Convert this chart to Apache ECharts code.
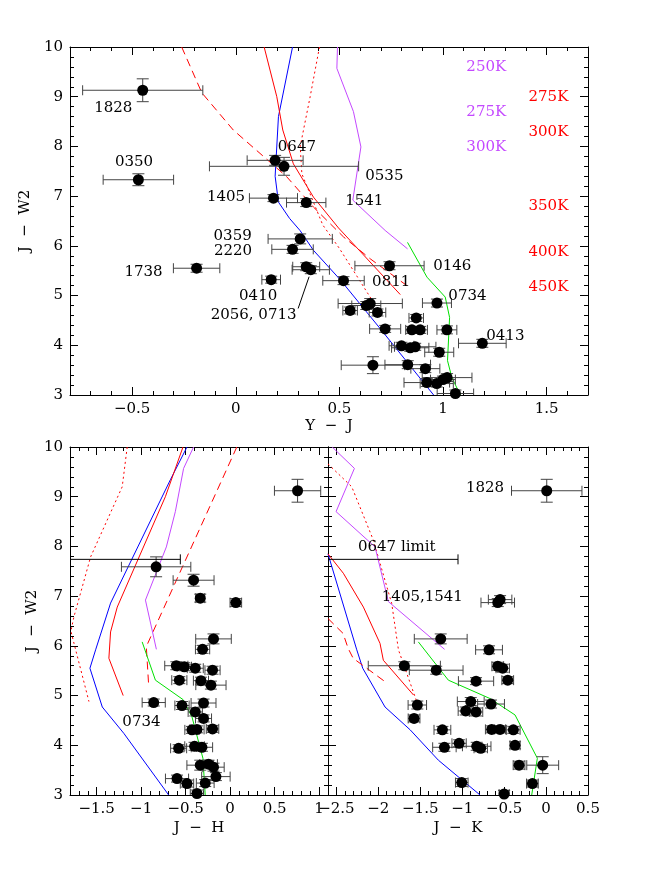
<!DOCTYPE html>
<html>
<head>
<meta charset="utf-8">
<script src="https://cdn.jsdelivr.net/npm/echarts@6/dist/echarts.min.js"></script>
<style>
  html, body { margin: 0; padding: 0; background: #fff; }
  #chart { width: 664px; height: 885px; }
</style>
</head>
<body>
<div id="chart"></div>
<script>
// points: [x, y, xerr, yerr]
const yjPoints = [
  [-0.449, 9.13, 0.29, 0.23], [-0.47, 7.33, 0.17, 0.12], [0.19, 7.72, 0.135, 0.1],
  [0.233, 7.60, 0.36, 0.18], [0.182, 6.96, 0.116, 0.07], [0.34, 6.87, 0.095, 0.08],
  [0.311, 6.14, 0.155, 0.1], [0.274, 5.93, 0.10, 0.08], [-0.189, 5.55, 0.112, 0.08],
  [0.34, 5.58, 0.065, 0.08], [0.362, 5.52, 0.09, 0.08], [0.171, 5.32, 0.045, 0.07],
  [0.742, 5.60, 0.167, 0.08], [0.52, 5.30, 0.10, 0.08], [0.971, 4.85, 0.07, 0.08],
  [0.649, 4.84, 0.155, 0.1], [0.63, 4.80, 0.07, 0.08], [0.552, 4.70, 0.035, 0.07],
  [0.684, 4.66, 0.04, 0.07], [0.871, 4.55, 0.035, 0.07], [0.721, 4.33, 0.075, 0.07],
  [0.85, 4.31, 0.03, 0.07], [0.89, 4.31, 0.035, 0.07], [1.019, 4.31, 0.048, 0.08],
  [1.19, 4.04, 0.115, 0.08], [0.80, 3.99, 0.06, 0.07], [0.842, 3.95, 0.09, 0.07],
  [0.866, 3.97, 0.1, 0.07], [0.982, 3.86, 0.07, 0.08], [0.662, 3.60, 0.153, 0.17],
  [0.83, 3.61, 0.11, 0.08], [0.915, 3.53, 0.07, 0.08], [1.02, 3.35, 0.12, 0.08],
  [1.0, 3.31, 0.06, 0.07], [0.922, 3.25, 0.11, 0.08], [0.97, 3.23, 0.08, 0.07],
  [1.06, 3.03, 0.088, 0.07]
];
const jhPoints = [
  [0.758, 9.12, 0.26, 0.23], [-0.832, 7.59, 0.39, 0.2], [-0.411, 7.32, 0.23, 0.12],
  [-0.336, 6.96, 0.05, 0.08], [0.064, 6.87, 0.065, 0.08], [-0.187, 6.14, 0.2, 0.1],
  [-0.31, 5.93, 0.08, 0.08], [-0.605, 5.60, 0.13, 0.08], [-0.515, 5.58, 0.08, 0.08],
  [-0.392, 5.55, 0.09, 0.08], [-0.198, 5.51, 0.085, 0.08], [-0.571, 5.31, 0.085, 0.07],
  [-0.328, 5.30, 0.085, 0.07], [-0.216, 5.21, 0.17, 0.08], [-0.859, 4.86, 0.13, 0.07],
  [-0.541, 4.80, 0.08, 0.08], [-0.299, 4.85, 0.14, 0.08], [-0.392, 4.67, 0.08, 0.08],
  [-0.299, 4.54, 0.09, 0.07], [-0.429, 4.31, 0.08, 0.07], [-0.373, 4.32, 0.08, 0.07],
  [-0.198, 4.33, 0.07, 0.07], [-0.579, 3.94, 0.09, 0.07], [-0.40, 3.98, 0.11, 0.08],
  [-0.317, 3.96, 0.12, 0.08], [-0.336, 3.60, 0.15, 0.1], [-0.243, 3.62, 0.1, 0.08],
  [-0.187, 3.56, 0.12, 0.08], [-0.160, 3.37, 0.16, 0.08], [-0.597, 3.33, 0.13, 0.07],
  [-0.485, 3.23, 0.075, 0.07], [-0.28, 3.24, 0.1, 0.07], [-0.373, 3.03, 0.075, 0.07]
];
const jkPoints = [
  [0.008, 9.12, 0.42, 0.23], [-0.548, 6.93, 0.14, 0.08], [-0.576, 6.87, 0.2, 0.08],
  [-1.256, 6.14, 0.315, 0.1], [-0.68, 5.92, 0.16, 0.08], [-1.69, 5.60, 0.43, 0.08],
  [-1.31, 5.51, 0.32, 0.08], [-0.576, 5.59, 0.07, 0.08], [-0.517, 5.55, 0.08, 0.08],
  [-0.835, 5.29, 0.21, 0.07], [-0.457, 5.31, 0.07, 0.07], [-1.535, 4.81, 0.11, 0.08],
  [-0.898, 4.88, 0.16, 0.08], [-0.656, 4.83, 0.16, 0.08], [-0.958, 4.69, 0.09, 0.08],
  [-0.835, 4.67, 0.08, 0.08], [-1.574, 4.54, 0.07, 0.07], [-1.236, 4.31, 0.1, 0.07],
  [-0.648, 4.32, 0.075, 0.07], [-0.548, 4.32, 0.065, 0.07], [-0.39, 4.31, 0.08, 0.07],
  [-1.212, 3.96, 0.14, 0.08], [-1.037, 4.04, 0.085, 0.07], [-0.827, 3.98, 0.17, 0.08],
  [-0.779, 3.94, 0.08, 0.07], [-0.37, 4.0, 0.06, 0.07], [-0.04, 3.60, 0.19, 0.17],
  [-0.322, 3.60, 0.07, 0.08], [-1.005, 3.25, 0.075, 0.08], [-0.163, 3.23, 0.07, 0.07],
  [-0.50, 3.02, 0.06, 0.07]
];
// upper limits: [xFrom, xTo, y]
const jhLimits = [[-1.8, -0.56, 7.74]];
const jkLimits = [[-2.6, -1.05, 7.74]];

// model tracks
const yjBlue = [[0.274,10],[0.206,8.6],[0.19,7.4],[0.206,6.88],[0.26,6.55],[0.31,6.31],[0.375,5.91],[0.504,5.32],[0.70,4.32],[0.955,3.0]];
const yjRed = [[0.137,10],[0.198,9.0],[0.227,8.33],[0.278,7.65],[0.375,6.98],[0.496,6.36],[0.794,5.02]];
const yjRedDash = [[-0.261,10],[-0.164,9.08],[-0.012,8.33],[0.117,7.86],[0.246,7.39],[0.375,6.78],[0.52,6.18],[0.649,5.74],[0.826,5.2]];
const yjRedDot = [[0.404,10],[0.359,9.0],[0.311,8.0],[0.319,7.45],[0.42,6.42],[0.50,5.95],[0.665,4.86]];
const yjViolet = [[0.491,10],[0.488,9.57],[0.568,8.70],[0.604,7.99],[0.565,6.92],[0.721,6.31],[0.829,5.94]];
const yjGreen = [[0.829,6.07],[0.923,5.37],[1.011,4.97],[1.032,4.56],[1.022,3.69],[1.043,3.35],[1.084,3.0]];
const yjLeader = [[0.301,4.74],[0.354,5.38]];

const jhBlue = [[-0.485,10],[-0.672,9.34],[-1.344,6.86],[-1.512,5.92],[-1.576,5.55],[-1.437,4.77],[-1.195,4.24],[-0.691,3.0]];
const jhRed = [[-0.53,10],[-0.728,9.0],[-1.269,6.78],[-1.344,6.28],[-1.363,5.75],[-1.202,5.0]];
const jhRedDash = [[0.075,10],[-0.926,6.05],[-0.941,5.95],[-0.915,5.18]];
const jhRedDot = [[-1.157,10],[-1.213,9.2],[-1.568,7.79],[-1.755,6.59],[-1.79,6.3],[-1.755,6.05],[-1.587,4.88]];
const jhViolet = [[-0.411,10],[-0.523,9.57],[-0.616,8.70],[-0.717,7.99],[-0.952,6.92],[-0.829,5.93]];
const jhGreen = [[-0.989,6.08],[-0.84,5.31],[-0.53,4.92],[-0.429,4.57],[-0.306,3.74],[-0.28,3.0]];

const jkBlue = [[-2.6,7.85],[-2.257,5.92],[-2.186,5.55],[-1.92,4.77],[-1.62,4.31],[-1.284,3.70],[-0.787,3.0]];
const jkRed = [[-2.6,7.85],[-2.417,7.46],[-2.178,6.78],[-1.98,6.05],[-1.94,5.71],[-1.58,5.01]];
const jkRedDash = [[-2.6,6.55],[-2.42,6.25],[-2.36,5.95],[-2.3,5.75],[-1.92,5.28]];
const jkRedDot = [[-2.6,9.66],[-2.317,9.2],[-2.06,8.13],[-1.84,6.85],[-1.76,5.92],[-1.542,4.88]];
const jkViolet = [[-2.55,10],[-2.285,9.57],[-2.504,8.70],[-2.039,7.99],[-1.88,6.89],[-1.21,5.93]];
const jkGreen = [[-1.523,6.08],[-1.165,5.31],[-0.668,4.94],[-0.37,4.61],[-0.104,3.74],[-0.171,3.0]];

// annotations: [x, y, text, align]
const yjLabels = [
  [-0.591, 8.78, '1828', 'center'], [-0.491, 7.69, '0350', 'center'], [0.295, 7.99, '0647', 'center'],
  [0.625, 7.40, '0535', 'left'], [0.045, 6.98, '1405', 'right'], [0.528, 6.90, '1541', 'left'],
  [0.077, 6.19, '0359', 'right'], [0.079, 5.89, '2220', 'right'], [-0.353, 5.48, '1738', 'right'],
  [0.108, 4.98, '0410', 'center'], [0.086, 4.60, '2056, 0713', 'center'], [0.953, 5.60, '0146', 'left'],
  [0.658, 5.28, '0811', 'left'], [1.026, 4.98, '0734', 'left'], [1.209, 4.18, '0413', 'left']
];
const yjVioletTemps = [[1.209, 9.59, '250K', 'center'], [1.209, 8.70, '275K', 'center'], [1.209, 7.99, '300K', 'center']];
const yjRedTemps = [[1.509, 8.99, '275K', 'center'], [1.509, 8.29, '300K', 'center'], [1.509, 6.79, '350K', 'center'],
  [1.509, 5.87, '400K', 'center'], [1.509, 5.18, '450K', 'center']];
const jhLabels = [[-0.997, 4.47, '0734', 'center']];
const jkLabels = [[-0.50, 9.17, '1828', 'right'], [-1.78, 7.98, '0647 limit', 'center'], [-1.475, 6.99, '1405,1541', 'center']];

const FONT = 'DejaVu Serif';
const RED = '#ff0000', BLUE = '#0000ff', VIOLET = '#c448ff', GREEN = '#00e000', BAR = '#444';

function ticks(lo, hi, step) {
  const out = [];
  const n = Math.round((hi - lo) / step);
  for (let i = 0; i <= n; i++) out.push(+(lo + i * step).toFixed(4));
  return out;
}
const fmt = v => (v < 0 ? '\u2212' : '') + Math.abs(v);

function axisSet(kind, gridIndex, min, max, majors, minors, showLabels, name, nameGap) {
  const posA = kind === 'x' ? 'bottom' : 'left';
  const posB = kind === 'x' ? 'top' : 'right';
  const base = { type: 'value', gridIndex, min, max, splitLine: { show: false } };
  const tick = (vals, len) => ({ show: true, inside: true, length: len, customValues: vals, lineStyle: { color: '#000', width: 1 } });
  const line = { show: true, onZero: false, lineStyle: { color: '#000', width: 1 } };
  const noLine = { show: false, onZero: false };
  const label = showLabels
    ? { show: true, customValues: majors, margin: 7, color: '#000', fontFamily: FONT, fontSize: 15, formatter: fmt }
    : { show: false };
  return [
    Object.assign({}, base, {
      position: posA, axisLine: line, axisTick: tick(majors, 8), axisLabel: label,
      name: name || '', nameLocation: 'middle', nameGap: nameGap || 0, nameRotate: kind === 'y' ? 90 : 0,
      nameTextStyle: { color: '#000', fontFamily: FONT, fontSize: 15 }
    }),
    Object.assign({}, base, { position: posA, axisLine: noLine, axisTick: tick(minors, 4), axisLabel: { show: false } }),
    Object.assign({}, base, { position: posB, axisLine: line, axisTick: tick(majors, 8), axisLabel: { show: false } }),
    Object.assign({}, base, { position: posB, axisLine: noLine, axisTick: tick(minors, 4), axisLabel: { show: false } })
  ];
}

const xAxes = [].concat(
  axisSet('x', 0, -0.8, 1.7, ticks(-0.5, 1.5, 0.5), ticks(-0.8, 1.7, 0.1), true, 'Y  \u2212  J', 24),
  axisSet('x', 1, -1.8, 1.1, ticks(-1.5, 1, 0.5), ticks(-1.8, 1.1, 0.1), true, 'J  \u2212  H', 26),
  axisSet('x', 2, -2.6, 0.5, ticks(-2.5, 0.5, 0.5), ticks(-2.6, 0.5, 0.1), true, 'J  \u2212  K', 26)
);
const yMaj = ticks(3, 10, 1), yMin = ticks(3, 10, 0.2);
const yAxes = [].concat(
  axisSet('y', 0, 3, 10, yMaj, yMin, true, 'J  \u2212  W2', 30),
  axisSet('y', 1, 3, 10, yMaj, yMin, true, 'J  \u2212  W2', 30),
  axisSet('y', 2, 3, 10, yMaj, yMin, false)
);

function errorBars(g, pts) {
  return {
    type: 'custom', xAxisIndex: 4 * g, yAxisIndex: 4 * g, data: pts, clip: true, z: 3,
    renderItem: (params, api) => {
      const x = api.value(0), y = api.value(1), dx = api.value(2), dy = api.value(3);
      const l = api.coord([x - dx, y]), r = api.coord([x + dx, y]);
      const t = api.coord([x, y + dy]), b = api.coord([x, y - dy]);
      const st = { stroke: BAR, lineWidth: 1 };
      const seg = (x1, y1, x2, y2) => ({ type: 'line', shape: { x1, y1, x2, y2 }, style: st });
      return {
        type: 'group', children: [
          seg(l[0], l[1], r[0], r[1]), seg(l[0], l[1] - 5, l[0], l[1] + 5), seg(r[0], r[1] - 5, r[0], r[1] + 5),
          seg(t[0], t[1], b[0], b[1]), seg(t[0] - 6, t[1], t[0] + 6, t[1]), seg(b[0] - 6, b[1], b[0] + 6, b[1])
        ]
      };
    }
  };
}
function dots(g, pts) {
  return {
    type: 'scatter', xAxisIndex: 4 * g, yAxisIndex: 4 * g, z: 4, symbolSize: 11,
    itemStyle: { color: '#000', opacity: 1 }, data: pts.map(p => [p[0], p[1]])
  };
}
function track(g, data, color, type) {
  return {
    type: 'line', xAxisIndex: 4 * g, yAxisIndex: 4 * g, data, showSymbol: false, clip: true, z: 2,
    lineStyle: { color, width: 1, type: type || 'solid' }
  };
}
function limits(g, rows) {
  return {
    type: 'custom', xAxisIndex: 4 * g, yAxisIndex: 4 * g, data: rows, clip: true, z: 3,
    renderItem: (params, api) => {
      const a = api.coord([api.value(0), api.value(2)]), b = api.coord([api.value(1), api.value(2)]);
      const st = { stroke: '#000', lineWidth: 1 };
      return {
        type: 'group', children: [
          { type: 'line', shape: { x1: a[0], y1: a[1], x2: b[0], y2: b[1] }, style: st },
          { type: 'line', shape: { x1: b[0], y1: b[1] - 5, x2: b[0], y2: b[1] + 5 }, style: st }
        ]
      };
    }
  };
}
function texts(g, rows, color) {
  return {
    type: 'custom', xAxisIndex: 4 * g, yAxisIndex: 4 * g, data: rows.map(r => [r[0], r[1]]), clip: false, z: 5,
    renderItem: (params, api) => {
      const p = api.coord([api.value(0), api.value(1)]);
      const row = rows[params.dataIndex];
      return {
        type: 'text', x: p[0], y: p[1],
        style: { text: row[2], fill: color, font: '15px "' + FONT + '"', align: row[3], verticalAlign: 'middle' }
      };
    }
  };
}

const series = [
  track(0, yjBlue, BLUE), track(0, yjRed, RED), track(0, yjRedDash, RED, [8, 5]),
  track(0, yjRedDot, RED, [2, 3]), track(0, yjViolet, VIOLET), track(0, yjGreen, GREEN),
  track(0, yjLeader, '#000'),
  errorBars(0, yjPoints), dots(0, yjPoints),
  texts(0, yjLabels, '#000'), texts(0, yjVioletTemps, VIOLET), texts(0, yjRedTemps, RED),

  track(1, jhBlue, BLUE), track(1, jhRed, RED), track(1, jhRedDash, RED, [8, 5]),
  track(1, jhRedDot, RED, [2, 3]), track(1, jhViolet, VIOLET), track(1, jhGreen, GREEN),
  errorBars(1, jhPoints), dots(1, jhPoints), limits(1, jhLimits), texts(1, jhLabels, '#000'),

  track(2, jkBlue, BLUE), track(2, jkRed, RED), track(2, jkRedDash, RED, [8, 5]),
  track(2, jkRedDot, RED, [2, 3]), track(2, jkViolet, VIOLET), track(2, jkGreen, GREEN),
  errorBars(2, jkPoints), dots(2, jkPoints), limits(2, jkLimits), texts(2, jkLabels, '#000')
];

const chart = echarts.init(document.getElementById('chart'), null, { renderer: 'canvas' });
chart.setOption({
  animation: false,
  backgroundColor: '#fff',
  grid: [
    { left: 70, top: 47, width: 518, height: 348 },
    { left: 70, top: 447, width: 258, height: 348 },
    { left: 328, top: 447, width: 260, height: 348 }
  ],
  xAxis: xAxes,
  yAxis: yAxes,
  series
});
</script>
</body>
</html>
